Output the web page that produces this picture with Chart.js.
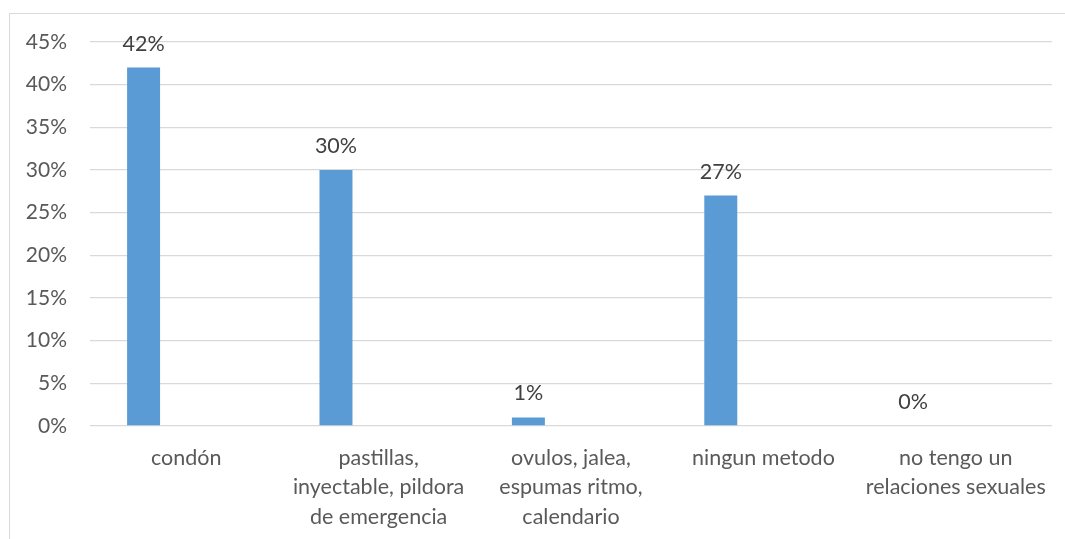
<!DOCTYPE html>
<html>
<head>
<meta charset="utf-8">
<script src="https://cdn.jsdelivr.net/npm/chart.js@4/dist/chart.umd.min.js"></script>
<style>
  html, body { margin: 0; padding: 0; background: #fff; }
  #wrap { position: absolute; left: 0; top: 0; width: 1065px; height: 539px; }
  #frame { position: absolute; left: 9px; top: 13px; width: 1080px; height: 560px; border: 1px solid #d9d9d9; box-sizing: border-box; }
  canvas { position: absolute; left: 0; top: 0; }
</style>
</head>
<body>
<div id="wrap">
  <div id="frame"></div>
  <canvas id="c" width="1065" height="539"></canvas>
</div>
<script>
const categories = [
  "condón",
  ["pastillas,", "inyectable, pildora", "de emergencia"],
  ["ovulos, jalea,", "espumas ritmo,", "calendario"],
  "ningun metodo",
  ["no tengo un", "relaciones sexuales"]
];
const values = [0.42, 0.30, 0.01, 0.27, 0.00];
const emptySeries = [null, null, null, null, null];
const yTicks = [0, 0.05, 0.10, 0.15, 0.20, 0.25, 0.30, 0.35, 0.40, 0.45];

const FONT = "Lato, 'Open Sans', sans-serif";

const labelPlugin = {
  id: 'valueLabels',
  afterDatasetsDraw(chart) {
    const ctx = chart.ctx;
    const meta = chart.getDatasetMeta(0);
    ctx.save();
    ctx.font = "21.5px " + FONT;
    ctx.fillStyle = "#404040";
    ctx.textAlign = "center";
    ctx.textBaseline = "middle";
    meta.data.forEach((bar, i) => {
      const v = values[i];
      ctx.fillText(Math.round(v * 100) + "%", bar.x, bar.y - 24);
    });
    ctx.restore();
  }
};

new Chart(document.getElementById('c'), {
  type: 'bar',
  data: {
    labels: categories,
    datasets: [
      { data: values, backgroundColor: '#5b9bd5', categoryPercentage: 0.886, barPercentage: 0.387 },
      { data: emptySeries, backgroundColor: '#ed7d31', categoryPercentage: 0.886, barPercentage: 0.387 }
    ]
  },
  options: {
    responsive: false,
    animation: false,
    devicePixelRatio: 1,
    layout: { padding: { top: 42, right: 13, left: 0, bottom: 0 } },
    plugins: { legend: { display: false }, tooltip: { enabled: false } },
    scales: {
      x: {
        grid: { display: false, drawTicks: false },
        border: { display: false },
        ticks: {
          color: '#595959',
          font: { family: FONT, size: 21.5, lineHeight: 1.37 },
          padding: 17,
          maxRotation: 0,
          autoSkip: false
        },
        afterFit(scale) { scale.height = 113; }
      },
      y: {
        min: 0,
        max: 0.45,
        afterBuildTicks(scale) { scale.ticks = yTicks.map(v => ({ value: v })); },
        grid: { color: '#d9d9d9', lineWidth: 1.3, drawTicks: false },
        border: { display: false },
        ticks: {
          color: '#595959',
          font: { family: FONT, size: 21 },
          padding: 23,
          callback: (v) => Math.round(v * 100) + '%'
        },
        afterFit(scale) { scale.width = 90; }
      }
    }
  },
  plugins: [labelPlugin]
});
</script>
</body>
</html>
